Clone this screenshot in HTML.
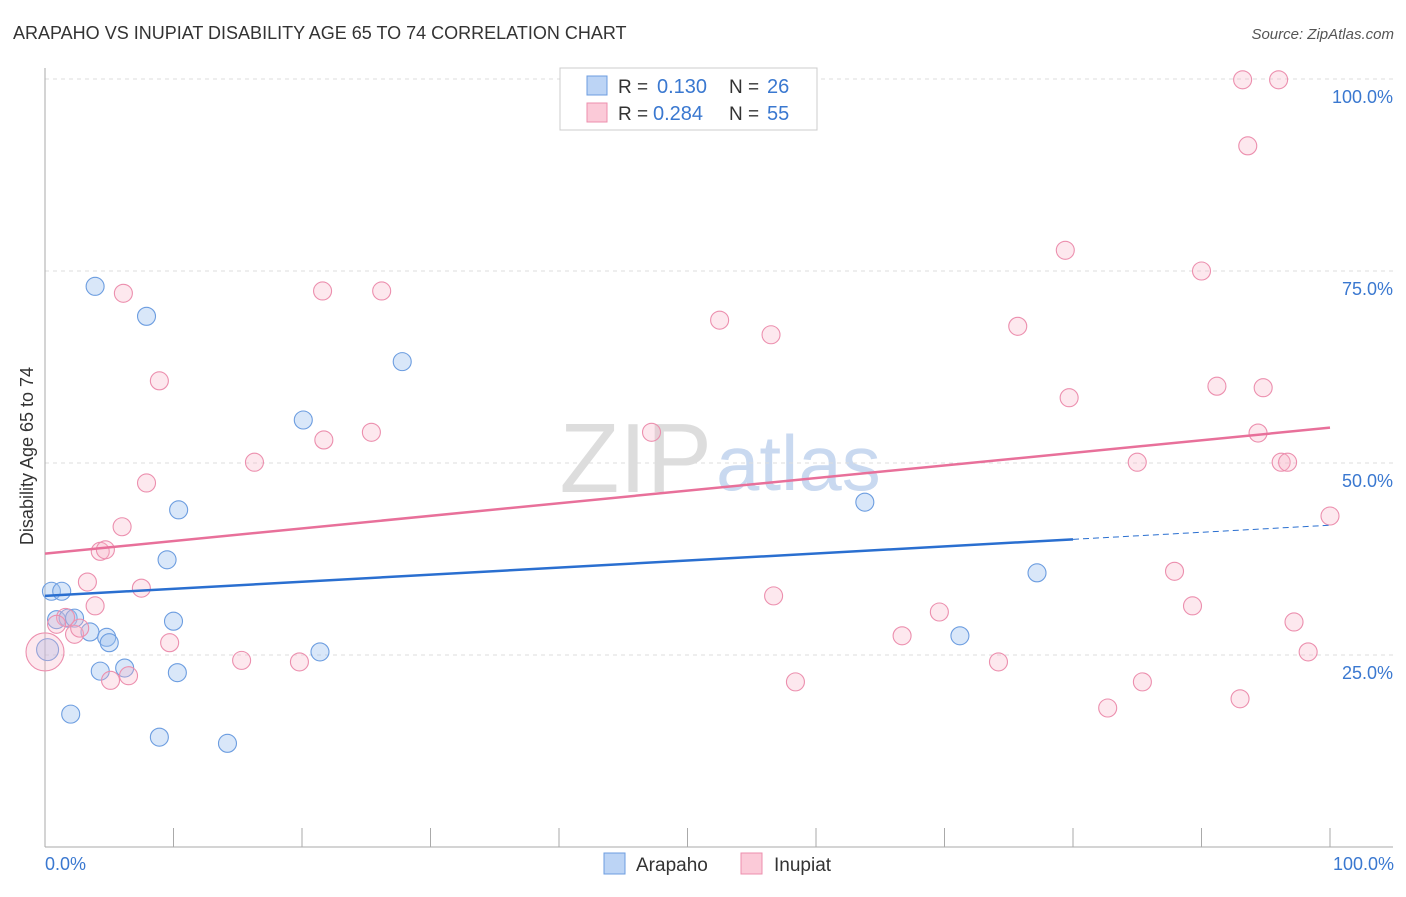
<!DOCTYPE html>
<html><head><meta charset="utf-8"><style>
body{margin:0;background:#fff;font-family:"Liberation Sans",sans-serif}
svg text{font-family:"Liberation Sans",sans-serif}
</style></head><body>
<svg id="c" width="1406" height="892">
<text x="13" y="39" font-size="18" fill="#333">ARAPAHO VS INUPIAT DISABILITY AGE 65 TO 74 CORRELATION CHART</text>
<text x="1394" y="39" font-size="15" fill="#555" text-anchor="end" font-style="italic">Source: ZipAtlas.com</text>
<text x="712" y="492" font-size="98" fill="#ddd" text-anchor="end" font-family="Liberation Serif">ZIP</text>
<text x="716" y="490" font-size="78" fill="#c9d9f0">atlas</text>
<g id="grid"></g><g id="pts"></g><g id="lines"></g>
<text transform="translate(33,456) rotate(-90)" font-size="18" fill="#333" text-anchor="middle">Disability Age 65 to 74</text>
<text x="45" y="870" font-size="18" fill="#3a78d0">0.0%</text>
<text x="1394" y="870" font-size="18" fill="#3a78d0" text-anchor="end">100.0%</text>
<g>
<rect x="560" y="68" width="257" height="62" fill="#fff" stroke="#ccc"/>
<rect x="587" y="76" width="20" height="19" fill="#bcd4f5" stroke="#6c9de0"/>
<rect x="587" y="103" width="20" height="19" fill="#fbcad8" stroke="#ec8fae"/>
<text x="618" y="93" font-size="19" fill="#333">R =</text>
<text x="657" y="93" font-size="20" fill="#3a78d0">0.130</text>
<text x="729" y="93" font-size="19" fill="#333">N =</text>
<text x="767" y="93" font-size="20" fill="#3a78d0">26</text>
<text x="618" y="120" font-size="19" fill="#333">R =</text>
<text x="653" y="120" font-size="20" fill="#3a78d0">0.284</text>
<text x="729" y="120" font-size="19" fill="#333">N =</text>
<text x="767" y="120" font-size="20" fill="#3a78d0">55</text>
</g>
<g>
<rect x="604" y="853" width="21" height="21" fill="#bcd4f5" stroke="#6c9de0"/>
<text x="636" y="871" font-size="19" fill="#333">Arapaho</text>
<rect x="741" y="853" width="21" height="21" fill="#fbcad8" stroke="#ec8fae"/>
<text x="774" y="871" font-size="19" fill="#333">Inupiat</text>
</g>
</svg>
<script>
const blueX=[3.9,7.9,27.8,20.1,10.4,63.8,9.5,0.5,1.3,77.2,0.9,1.8,2.3,10.0,3.5,4.8,5.0,71.2,0.2,21.4,4.3,6.2,10.3,2.0,8.9,14.2];
const blueY=[73.0,69.1,63.2,55.6,43.9,44.9,37.4,33.3,33.3,35.7,29.6,29.8,29.8,29.4,28.0,27.3,26.6,27.5,25.7,25.4,22.9,23.3,22.7,17.3,14.3,13.5];
const pinkX=[93.2,96.0,93.6,79.4,90.0,6.1,21.6,26.2,52.5,56.5,75.7,8.9,91.2,94.8,79.7,21.7,25.4,47.2,94.4,16.3,85.0,96.2,96.7,7.9,6.0,100,4.3,4.7,3.3,7.5,87.9,3.9,56.7,69.6,89.3,1.6,0.9,2.3,2.7,9.7,97.2,66.7,15.3,19.8,74.2,98.3,5.1,6.5,58.4,85.4,82.7,93.0,0];
const pinkY=[99.9,99.9,91.3,77.7,75.0,72.1,72.4,72.4,68.6,66.7,67.8,60.7,60.0,59.8,58.5,53.0,54.0,54.0,53.9,50.1,50.1,50.1,50.1,47.4,41.7,43.1,38.5,38.7,34.5,33.7,35.9,31.4,32.7,30.6,31.4,29.9,29.0,27.7,28.5,26.6,29.3,27.5,24.3,24.1,24.1,25.4,21.7,22.3,21.5,21.5,18.1,19.3,25.4];
const yTicks=[25,50,75,100];
const blueTrend=[32.7,41.9]; const pinkTrend=[38.2,54.6];
const X=v=>45+v*12.85, Y=v=>847-v*7.68, NS="http://www.w3.org/2000/svg";
function mk(t,a,p){const e=document.createElementNS(NS,t);for(const k in a)e.setAttribute(k,a[k]);p.appendChild(e);return e;}
const g=document.getElementById('grid');
yTicks.forEach(t=>{
const l=mk('line',{x1:45,x2:1393,y1:Y(t),y2:Y(t),stroke:'#ddd','stroke-dasharray':'4,4'},g);


const tx=mk('text',{x:1393,y:Y(t)+24,'font-size':18,fill:'#3a78d0','text-anchor':'end'},g);tx.textContent=t.toFixed(1)+'%';


});
mk('line',{x1:45,x2:45,y1:68,y2:847,stroke:'#aaa'},g);
mk('line',{x1:45,x2:1393,y1:847,y2:847,stroke:'#aaa'},g);
for(let i=0;i<=10;i++){mk('line',{x1:X(i*10),x2:X(i*10),y1:828,y2:847,stroke:'#aaa'},g);}
const p=document.getElementById('pts');
blueX.forEach((x,i)=>{const c=mk('circle',{cx:X(x),cy:Y(blueY[i]),r:i==18?11:9,fill:'rgba(160,195,240,0.4)',stroke:'#6c9de0','stroke-width':1.1},p);

});
pinkX.forEach((x,i)=>{const c=mk('circle',{cx:X(x),cy:Y(pinkY[i]),r:i==pinkX.length-1?19:9,fill:'rgba(248,180,200,0.3)',stroke:'#ec8fae','stroke-width':1.1},p);

});
const L=document.getElementById('lines');
const yb=v=>blueTrend[0]+(blueTrend[1]-blueTrend[0])*v/100;
let a=mk('line',{x1:X(0),y1:Y(yb(0)),x2:X(80),y2:Y(yb(80)),stroke:'#2a6fd0','stroke-width':2.5},L);


a=mk('line',{x1:X(80),y1:Y(yb(80)),x2:X(100),y2:Y(yb(100)),stroke:'#2a6fd0','stroke-width':1,'stroke-dasharray':'6,4'},L);


a=mk('line',{x1:X(0),y1:Y(pinkTrend[0]),x2:X(100),y2:Y(pinkTrend[1]),stroke:'#e8709a','stroke-width':2.5},L);


</script>
</body></html>
